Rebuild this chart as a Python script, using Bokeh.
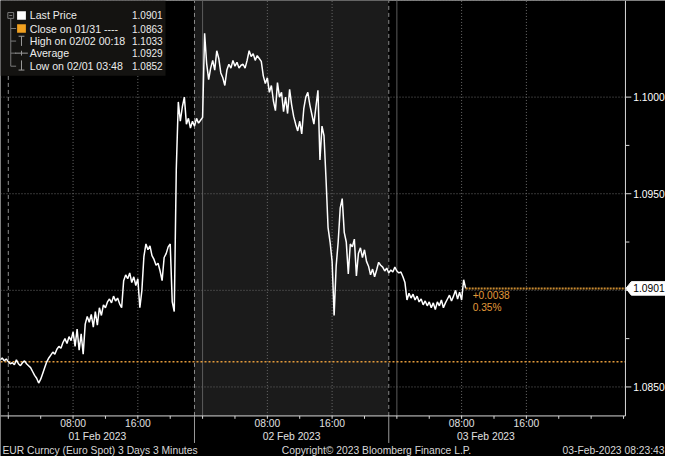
import numpy as np
from bokeh.plotting import figure
from bokeh.models import Range1d, Label
from bokeh.core.properties import value
from bokeh.embed import file_html
from bokeh.resources import INLINE

# ---------------- data ----------------
# time in hours relative to 01 Feb 2023 00:00, one value every 15 minutes from 31 Jan 23:00
start_hour = -1.0
step_hours = 0.25
price = [
    1.08640, 1.08650, 1.08635, 1.08645, 1.08630, 1.08620, 1.08625, 1.08615, 1.08640, 1.08620,
    1.08610, 1.08625, 1.08635, 1.08620, 1.08610, 1.08600, 1.08580, 1.08560, 1.08545, 1.08520,
    1.08540, 1.08570, 1.08600, 1.08630, 1.08650, 1.08665, 1.08680, 1.08670, 1.08695, 1.08710,
    1.08700, 1.08730, 1.08750, 1.08725, 1.08760, 1.08740, 1.08785, 1.08710, 1.08800, 1.08690,
    1.08775, 1.08670, 1.08825, 1.08865, 1.08835, 1.08875, 1.08810, 1.08890, 1.08820, 1.08910,
    1.08870, 1.08925, 1.08910, 1.08940, 1.08955, 1.08935, 1.08970, 1.08945, 1.08960, 1.08930,
    1.08910, 1.09050, 1.09080, 1.09060, 1.09090, 1.09040, 1.09070, 1.09025, 1.09060, 1.08910,
    1.09000, 1.09175, 1.09240, 1.09210, 1.09230, 1.09180, 1.09160, 1.09130, 1.09140, 1.09100,
    1.09050, 1.09170, 1.09190, 1.09225, 1.09240, 1.08940, 1.08890, 1.09625, 1.09975, 1.09875,
    1.09950, 1.10000, 1.09860, 1.09890, 1.09840, 1.09875, 1.09850, 1.09890, 1.09865, 1.09880,
    1.09895, 1.10330, 1.10175, 1.10090, 1.10150, 1.10190, 1.10140, 1.10240, 1.10200, 1.10125,
    1.10100, 1.10060, 1.10140, 1.10170, 1.10150, 1.10190, 1.10160, 1.10180, 1.10150, 1.10165,
    1.10170, 1.10150, 1.10190, 1.10240, 1.10210, 1.10225, 1.10190, 1.10215, 1.10200, 1.10185,
    1.10110, 1.10070, 1.10100, 1.10025, 1.10060, 1.09980, 1.09930, 1.10075, 1.10000, 1.10025,
    1.09925, 1.10000, 1.09915, 1.10040, 1.09960, 1.09900, 1.09860, 1.09825, 1.09875, 1.09810,
    1.09940, 1.10000, 1.10025, 1.09960, 1.09910, 1.09860, 1.09950, 1.10035, 1.09675, 1.09850,
    1.09800, 1.09575, 1.09325, 1.09250, 1.09150, 1.08870, 1.09125, 1.09250, 1.09425, 1.09475,
    1.09300, 1.09250, 1.09085, 1.09240, 1.09225, 1.09265, 1.09075, 1.09190, 1.09220, 1.09170,
    1.09210, 1.09150, 1.09125, 1.09080, 1.09110, 1.09070, 1.09105, 1.09145, 1.09130, 1.09120,
    1.09100, 1.09115, 1.09090, 1.09105, 1.09095, 1.09120, 1.09100, 1.09090, 1.09095, 1.09070,
    1.09040, 1.08950, 1.08985, 1.08960, 1.08980, 1.08950, 1.08970, 1.08940, 1.08955, 1.08925,
    1.08945, 1.08920, 1.08940, 1.08910, 1.08935, 1.08900, 1.08940, 1.08920, 1.08950, 1.08910,
    1.08935, 1.08955, 1.08975, 1.08945, 1.08970, 1.09000, 1.08955, 1.08990, 1.08950, 1.09055,
    1.09010,
]
hours = start_hour + step_hours * np.arange(len(price))

close_prev = 1.0863
last_price = 1.0901
legend_names = ["Last Price", "Close on 01/31 ----", "High on 02/02 00:18", "Average", "Low on 02/01 03:48"]
legend_values = ["1.0901", "1.0863", "1.1033", "1.0929", "1.0852"]

time_ticks = [8, 16, 32, 40, 56, 64]
time_labels = ["08:00", "16:00", "08:00", "16:00", "08:00", "16:00"]
minor_time_ticks = list(range(0, 77, 4))
day_sessions = [22.95, 46.95]        # shaded 02 Feb session
session_marks = [0, 23, 47]
midnights = [24, 48]
date_pos = [11, 35, 59]
date_labels = ["01 Feb 2023", "02 Feb 2023", "03 Feb 2023"]
footer_texts = ["EUR Curncy (Euro Spot) 3 Days 3 Minutes",
                "Copyright\u00a9 2023 Bloomberg Finance L.P.",
                "03-Feb-2023 08:23:43"]
y_ticks = [1.085, 1.090, 1.095, 1.100]
y_labels = ["1.0850", "1.0900", "1.0950", "1.1000"]
y_minor = [1.0875, 1.0925, 1.0975]
y_grid = [1.085, 1.090, 1.095, 1.100, 1.105]

# ---------------- layout helpers (reference pixels -> data) ----------------
PX_H = 77.205 / 640.0           # hours per reference pixel
PX_P = 0.0050 / 100.0           # price per reference pixel
X0 = -0.965
X1 = X0 + 681 * PX_H
Y1 = 1.1050
Y0 = Y1 - 472 * PX_P
FONT = "Liberation Sans"
ORANGE = "#e39a3b"
AX = "#d8d8d8"

def fx(px):
    return X0 + px * PX_H

def fy(py):
    return Y1 - py * PX_P

XE = fx(640)        # price axis position
YB = fy(430)        # time axis position

p = figure(width=665, height=456, x_range=Range1d(X0, X1), y_range=Range1d(Y0, Y1),
           output_backend="svg", toolbar_location=None, x_axis_location=None,
           y_axis_location=None, background_fill_color="black", border_fill_color="black",
           min_border_left=0, min_border_top=0, min_border_right=0, min_border_bottom=0)
p.outline_line_color = None
p.grid.visible = False

# shaded 02 Feb session
p.quad(left=[day_sessions[0]], right=[day_sessions[1]], top=[Y1], bottom=[YB],
       fill_color="#1b1b1b", line_color=None)
# session boundaries and midnights
p.segment(x0=session_marks, x1=session_marks, y0=[YB] * 3, y1=[Y1] * 3,
          line_color="#8a8a8a", line_dash="4 3", line_width=1)
p.segment(x0=midnights, x1=midnights, y0=[YB] * 2, y1=[Y1] * 2, line_color="#5c5c5c",
          line_width=1)
# grid
p.segment(x0=time_ticks, x1=time_ticks, y0=[YB] * len(time_ticks), y1=[Y1] * len(time_ticks),
          line_color="#6a6a6a", line_dash="1 2", line_width=1)
p.segment(x0=[X0] * len(y_grid), x1=[XE] * len(y_grid), y0=y_grid, y1=y_grid,
          line_color="#6a6a6a", line_dash="1 2", line_width=1)

# legend box (top left)
p.quad(left=[fx(0)], right=[fx(169)], top=[fy(0)], bottom=[fy(78)], fill_color="#141311",
       line_color=None)

# close line
p.segment(x0=[X0], x1=[XE], y0=[close_prev], y1=[close_prev], line_color=ORANGE,
          line_dash="2 2", line_width=1.5)

# price line
p.line(hours, price, line_color="white", line_width=1.5)

# last price line and change texts
p.segment(x0=[hours[-1]], x1=[XE], y0=[last_price], y1=[last_price], line_color="#c98a30",
          line_width=2, line_dash="2 1")
chg = last_price - close_prev
p.add_layout(Label(x=float(hours[-1]), y=last_price, x_offset=7, y_offset=-7,
                   text="+%.4f" % chg, text_color=ORANGE, text_font=FONT,
                   text_font_size="10.2px", text_baseline="middle"))
p.add_layout(Label(x=float(hours[-1]), y=last_price, x_offset=7, y_offset=-19.5,
                   text="%.2f%%" % (chg / close_prev * 100), text_color=ORANGE,
                   text_font=FONT, text_font_size="10.2px", text_baseline="middle"))

# ---- price axis (right) ----
p.segment(x0=[XE], x1=[XE], y0=[YB], y1=[Y1], line_color=AX, line_width=1)
p.segment(x0=[XE] * len(y_ticks), x1=[fx(646)] * len(y_ticks), y0=y_ticks, y1=y_ticks,
          line_color=AX, line_width=1)
p.segment(x0=[XE] * len(y_minor), x1=[fx(644)] * len(y_minor), y0=y_minor, y1=y_minor,
          line_color=AX, line_width=1)
p.text(x=[fx(648)] * len(y_ticks), y=y_ticks, text=y_labels, text_color="white",
       text_font=value(FONT), text_font_size="10.3px", text_baseline="middle")
# last price tag
dy = 7 * PX_P
p.patch(x=[fx(640.5), fx(646), fx(681), fx(681), fx(646)],
        y=[last_price, last_price + dy, last_price + dy, last_price - dy, last_price - dy],
        fill_color="white", line_color="white")
p.text(x=[fx(648)], y=[last_price], text=["%.4f" % last_price], text_color="black",
       text_font=value(FONT), text_font_size="10.3px", text_baseline="middle")

# ---- time axis (bottom) ----
p.segment(x0=[X0], x1=[XE], y0=[YB], y1=[YB], line_color=AX, line_width=1)
p.segment(x0=minor_time_ticks, x1=minor_time_ticks, y0=[YB] * len(minor_time_ticks),
          y1=[fy(433)] * len(minor_time_ticks), line_color=AX, line_width=1)
p.segment(x0=session_marks[1:], x1=session_marks[1:], y0=[YB] * 2, y1=[fy(458)] * 2,
          line_color="#9a9a9a", line_width=1)
p.text(x=time_ticks, y=[fy(438)] * len(time_ticks), text=time_labels, text_color="#e0e0e0",
       text_font=value(FONT), text_font_size="10.3px", text_baseline="middle",
       text_align="center")
p.text(x=date_pos, y=[fy(451.5)] * len(date_pos), text=date_labels, text_color="#e0e0e0",
       text_font=value(FONT), text_font_size="10.3px", text_baseline="middle",
       text_align="center")
p.text(x=[fx(2), fx(385), fx(680)], y=[fy(465.5)] * 3, text=footer_texts,
       text_color="#d8d8d8", text_font=value(FONT), text_font_size="10.3px",
       text_baseline="middle", text_align=["left", "center", "right"])

# ---- legend contents ----
row_px = [15.5, 29, 42, 54.5, 68]
rows_y = [fy(r) for r in row_px]
p.segment(x0=[fx(10.5)] * 4, x1=[fx(16)] * 4, y0=rows_y[1:], y1=rows_y[1:],
          line_color="#7a7a7a", line_width=1)
p.segment(x0=[fx(10.5)], x1=[fx(10.5)], y0=[fy(19)], y1=[rows_y[-1]], line_color="#7a7a7a",
          line_width=1)
p.quad(left=[fx(7.5)], right=[fx(13.5)], top=[fy(12.5)], bottom=[fy(18.5)], fill_color=None,
       line_color="#7a7a7a", line_width=1)
p.segment(x0=[fx(9)], x1=[fx(12)], y0=[rows_y[0]], y1=[rows_y[0]], line_color="#7a7a7a")
p.quad(left=[fx(17), fx(17)], right=[fx(26), fx(26)], top=[fy(11), fy(24.5)],
       bottom=[fy(20), fy(33.5)], fill_color=["white", "#f0a020"], line_color=None)
p.segment(x0=[fx(18.5), fx(21.5), fx(15), fx(21.5), fx(21.5), fx(18.5)],
          x1=[fx(24.5), fx(21.5), fx(28), fx(21.5), fx(21.5), fx(24.5)],
          y0=[fy(37), fy(37), rows_y[3], fy(52), fy(62), fy(72)],
          y1=[fy(37), fy(47), rows_y[3], fy(57), fy(72), fy(72)],
          line_color="#9a9a9a", line_width=1)
p.text(x=[fx(30)] * 5, y=rows_y, text=legend_names, text_color="#ececec",
       text_font=value(FONT), text_font_size="10.6px", text_baseline="middle")
p.text(x=[fx(166)] * 5, y=rows_y, text=legend_values, text_color="#ececec",
       text_font=value(FONT), text_font_size="10px", text_baseline="middle",
       text_align="right")

open("out.html", "w").write(file_html(p, INLINE))
